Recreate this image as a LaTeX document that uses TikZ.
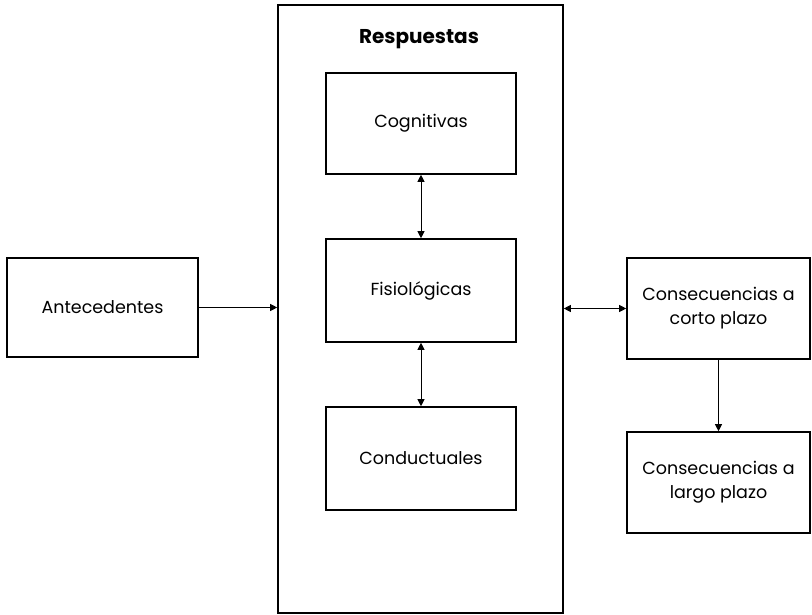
\documentclass[tikz,border=0pt]{standalone}
\usepackage{fontspec}
\setmainfont{Poppins}
\usetikzlibrary{arrows.meta}
\begin{document}
\begin{tikzpicture}[x=1pt,y=-1pt,
  box/.style={draw, line width=1.6pt, minimum width=#1, inner sep=0pt, align=center, font=\fontsize{17.5}{24}\selectfont},
  conn/.style={line width=0.8pt, -{Triangle[length=7pt,width=7pt]}},
  biconn/.style={line width=0.8pt, {Triangle[length=7pt,width=7pt]}-{Triangle[length=7pt,width=7pt]}}]
\useasboundingbox (0,0) rectangle (812,615);
\node[draw, line width=1.6pt, minimum width=285pt, minimum height=608pt, inner sep=0pt] (resp) at (420.5,309) {};
\node[font=\bfseries\fontsize{20}{24}\selectfont] (title) at (419,39) {Respuestas};
\node[box=190pt, minimum height=101pt] (cog) at (421,123.5) {Cognitivas};
\node[box=190pt, minimum height=103pt] (fis) at (421,290.5) {Fisiológicas};
\node[box=190pt, minimum height=103pt] (con) at (421,458.5) {Conductuales};
\node[box=191pt, minimum height=99pt] (ant) at (102.5,307.5) {Antecedentes};
\node[box=183pt, minimum height=101pt] (corto) at (718.5,308.5) {Consecuencias a\\corto plazo};
\node[box=183pt, minimum height=101pt] (largo) at (718.5,482.5) {Consecuencias a\\largo plazo};
\draw[conn] (ant.east) -- (ant.east -| resp.west);
\draw[biconn] (corto.west -| resp.east) -- (corto.west);
\draw[biconn] (cog.south) -- (fis.north);
\draw[biconn] (fis.south) -- (con.north);
\draw[conn] (corto.south) -- (largo.north);
\end{tikzpicture}
\end{document}
